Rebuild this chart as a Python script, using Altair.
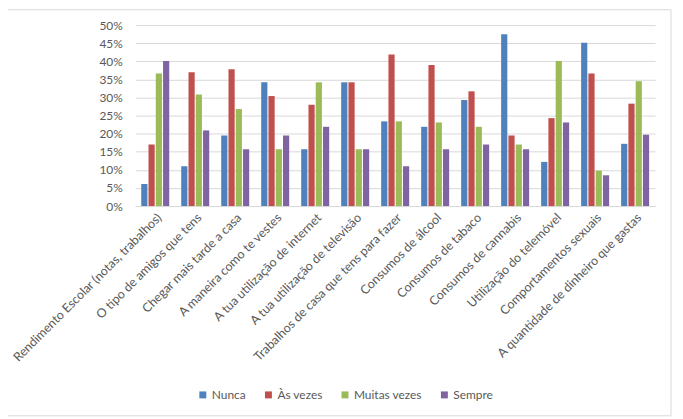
import altair as alt
import pandas as pd

categories = [
    "Rendimento Escolar (notas, trabalhos)",
    "O tipo de amigos que tens",
    "Chegar mais tarde a casa",
    "A maneira como te vestes",
    "A tua utilização de internet",
    "A tua utilização de televisão",
    "Trabalhos de casa que tens para fazer",
    "Consumos de álcool",
    "Consumos de tabaco",
    "Consumos de cannabis",
    "Utilização do telemóvel",
    "Comportamentos sexuais",
    "A quantidade de dinheiro que gastas",
]
series = ["Nunca", "Às vezes", "Muitas vezes", "Sempre"]
nunca = [6.1, 11.0, 19.5, 34.2, 15.7, 34.2, 23.4, 21.9, 29.3, 47.5, 12.2, 45.1, 17.2]
as_vezes = [17.0, 37.0, 37.8, 30.4, 28.0, 34.2, 41.9, 39.0, 31.7, 19.5, 24.3, 36.6, 28.3]
muitas_vezes = [36.6, 30.8, 26.8, 15.7, 34.2, 15.7, 23.4, 23.1, 21.9, 17.0, 40.1, 9.8, 34.5]
sempre = [40.1, 20.9, 15.7, 19.5, 21.9, 15.7, 11.0, 15.7, 17.0, 15.7, 23.1, 8.5, 19.7]
colors = ["#4F81BD", "#C0504D", "#9BBB59", "#8064A2"]

rows = []
for name, vals in zip(series, [nunca, as_vezes, muitas_vezes, sempre]):
    for cat, v in zip(categories, vals):
        rows.append({"categoria": cat, "serie": name, "valor": v})
df = pd.DataFrame(rows)

FONT = "Lato"
TXT = "#595959"

bars = alt.Chart(df).mark_bar().encode(
    x=alt.X(
        "categoria:N",
        sort=categories,
        scale=alt.Scale(paddingInner=0.3, paddingOuter=0.15),
        axis=alt.Axis(
            title=None,
            labelAngle=-45,
            labelFontSize=12.5,
            labelColor=TXT,
            labelFont=FONT,
            labelPadding=5,
            ticks=False,
            domainColor="#D9D9D9",
            labelLimit=400,
        ),
    ),
    xOffset=alt.XOffset("serie:N", sort=series, scale=alt.Scale(paddingInner=0.15)),
    y=alt.Y(
        "valor:Q",
        scale=alt.Scale(domain=[0, 50]),
        axis=alt.Axis(
            title=None,
            values=list(range(0, 55, 5)),
            labelExpr="datum.value + '%'",
            labelFontSize=12,
            labelColor=TXT,
            labelFont=FONT,
            labelPadding=13,
            ticks=False,
            domain=False,
            gridColor="#D9D9D9",
        ),
    ),
    color=alt.Color(
        "serie:N",
        sort=series,
        scale=alt.Scale(domain=series, range=colors),
        legend=alt.Legend(
            title=None,
            orient="none",
            direction="horizontal",
            legendX=62,
            legendY=366,
            symbolType="square",
            symbolSize=49,
            symbolStrokeWidth=0,
            labelFontSize=12,
            labelColor=TXT,
            labelFont=FONT,
            labelOffset=3,
            columnPadding=16,
            padding=0,
        ),
    ),
)

border = alt.Chart(alt.Data(values=[{}])).mark_rect(
    fill=None, stroke="#D9D9D9", strokeWidth=1
).encode(
    x=alt.value(-140), x2=alt.value(539), y=alt.value(-15.5), y2=alt.value(393)
)

chart = alt.layer(border, bars).properties(
    width=523,
    height=182,
    autosize=alt.AutoSizeParams(type="none"),
    padding={"left": 128, "top": 16, "right": 20, "bottom": 213},
).configure_view(stroke=None)

chart.save("out.html", embed_options={"renderer": "svg", "actions": False})
